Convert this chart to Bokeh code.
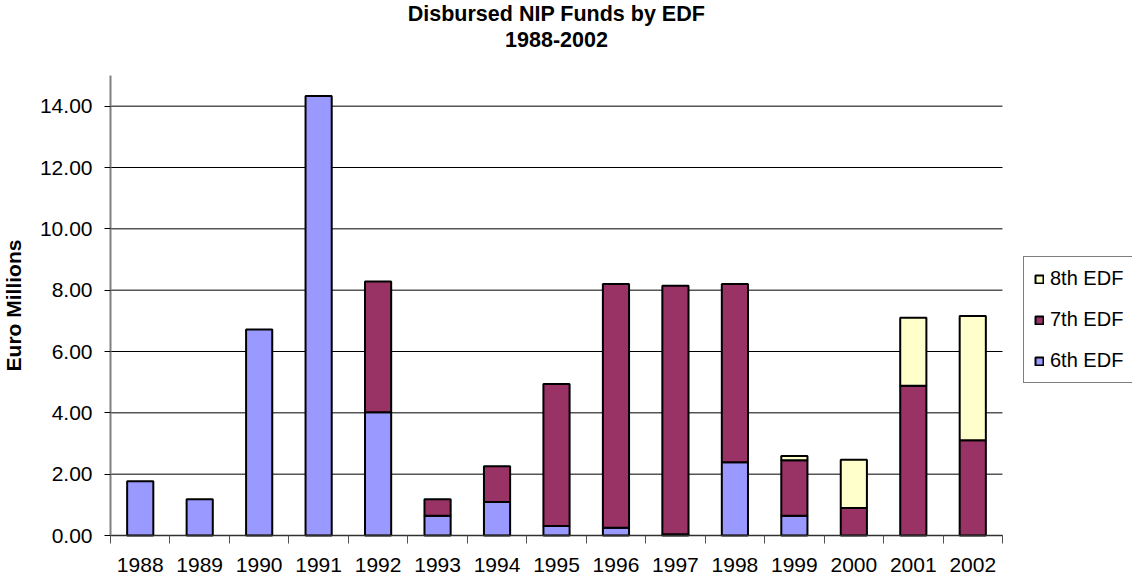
from bokeh.plotting import figure
from bokeh.models import (ColumnDataSource, FixedTicker, Range1d, Legend, Label,
                          LegendItem, PrintfTickFormatter)
from bokeh.embed import file_html
from bokeh.resources import INLINE
import math

years = ["1988", "1989", "1990", "1991", "1992", "1993", "1994", "1995",
         "1996", "1997", "1998", "1999", "2000", "2001", "2002"]
edf6 = [1.77, 1.18, 6.72, 14.33, 4.02, 0.64, 1.09, 0.31, 0.25, 0.04, 2.39, 0.64, 0.0, 0.0, 0.0]
edf7 = [0.0, 0.0, 0.0, 0.0, 4.26, 0.54, 1.17, 4.63, 7.95, 8.10, 5.81, 1.81, 0.90, 4.88, 3.11]
edf8 = [0.0, 0.0, 0.0, 0.0, 0.0, 0.0, 0.0, 0.0, 0.0, 0.0, 0.0, 0.14, 1.57, 2.22, 4.05]
series_names = ["6th EDF", "7th EDF", "8th EDF"]
series_colors = ["#9999FF", "#993366", "#FFFFCC"]
y_ticks = [0, 2, 4, 6, 8, 10, 12, 14]
title_lines = ["Disbursed NIP Funds by EDF", "1988-2002"]

FONT = "Liberation Sans"

# ---- layout (figure pixels); the frame covers the whole figure ----
W, H = 1132, 575
n = len(years)
AX_LEFT, AX_RIGHT = 110, 1002     # pixel span of the category area
Y0_PX, Y15_PX = 535, 75           # pixel rows of value 0 and value 15
Y_MAX = 15
xpu = (AX_RIGHT - AX_LEFT) / n
ypu = (Y0_PX - Y15_PX) / Y_MAX
x_range = Range1d(-0.5 - AX_LEFT / xpu, n - 0.5 + (W - AX_RIGHT) / xpu)
y_range = Range1d(-(H - Y0_PX) / ypu, Y_MAX + Y15_PX / ypu)

p = figure(width=W, height=H, output_backend="svg", toolbar_location=None,
           x_range=x_range, y_range=y_range, title=None,
           min_border_left=0, min_border_right=0, min_border_top=0, min_border_bottom=0)
p.outline_line_color = None
p.background_fill_color = "white"
p.border_fill_color = "white"

xs = list(range(n))

# horizontal grid lines limited to the category area
p.segment(x0=[-0.5] * len(y_ticks), x1=[n - 0.5] * len(y_ticks), y0=y_ticks, y1=y_ticks,
          line_color="black", line_width=1, level="underlay")

cum = [0.0] * n
renderers = []
for name, vals, col in zip(series_names, [edf6, edf7, edf8], series_colors):
    bottoms, tops = [], []
    for i, v in enumerate(vals):
        if v > 0:
            bottoms.append(cum[i])
            tops.append(cum[i] + v)
        else:
            bottoms.append(math.nan)
            tops.append(math.nan)
        cum[i] += v
    src = ColumnDataSource(dict(x=xs, bottom=bottoms, top=tops))
    r = p.vbar(x="x", bottom="bottom", top="top", width=0.44, source=src,
               fill_color=col, line_color="black", line_width=2)
    renderers.append((name, r))

# x axis at value 0
xa = p.xaxis[0]
xa.fixed_location = 0
xa.bounds = (-0.5, n - 0.5)
xa.ticker = FixedTicker(ticks=xs, minor_ticks=[i - 0.5 for i in range(n + 1)])
xa.major_label_overrides = {i: y for i, y in enumerate(years)}
xa.major_tick_line_color = None
xa.major_tick_in = 0
xa.major_tick_out = 0
xa.minor_tick_line_color = "#505050"
xa.minor_tick_in = 0
xa.minor_tick_out = 8
xa.axis_line_color = "#303030"
xa.axis_line_width = 1.5
xa.major_label_text_font = FONT
xa.major_label_text_font_size = "21px"
xa.major_label_text_color = "black"
xa.major_label_standoff = 14

# y axis at the left edge of the category area
ya = p.yaxis[0]
ya.fixed_location = -0.5
ya.bounds = (0, Y_MAX)
ya.ticker = FixedTicker(ticks=y_ticks, minor_ticks=[])
ya.formatter = PrintfTickFormatter(format="%.2f")
ya.major_tick_in = 0
ya.major_tick_out = 6
ya.major_tick_line_color = "black"
ya.axis_line_color = "#808080"
ya.axis_line_width = 2
ya.major_label_text_font = FONT
ya.major_label_text_font_size = "21px"
ya.major_label_text_color = "black"
ya.major_label_standoff = 12
ya.axis_label = "Euro Millions"
ya.axis_label_text_font = FONT
ya.axis_label_text_font_size = "21px"
ya.axis_label_text_font_style = "bold"
ya.axis_label_text_color = "black"
ya.axis_label_standoff = 12

p.xgrid.visible = False
p.ygrid.visible = False

# two-line title centred over the category area
cx = (AX_LEFT + AX_RIGHT) / 2
for txt, ypix in zip(title_lines, [13, 39]):
    p.add_layout(Label(x=cx, y=H - ypix, x_units="screen", y_units="screen", text=txt,
                       text_align="center", text_baseline="middle", text_font=FONT,
                       text_font_size="21.5px", text_font_style="bold", text_color="black"))

# legend (reverse order like the reference)
items = [LegendItem(label=nm, renderers=[r]) for nm, r in reversed(renderers)]
legend = Legend(items=items, location=(1023, H - 383), glyph_width=10, glyph_height=10,
                label_height=20, spacing=18, padding=10, margin=0, label_standoff=6,
                label_text_font=FONT, label_text_font_size="20px", label_text_color="black",
                border_line_color="black", border_line_width=1,
                background_fill_alpha=1.0)
p.add_layout(legend, "center")

open("out.html", "w").write(file_html(p, INLINE))
